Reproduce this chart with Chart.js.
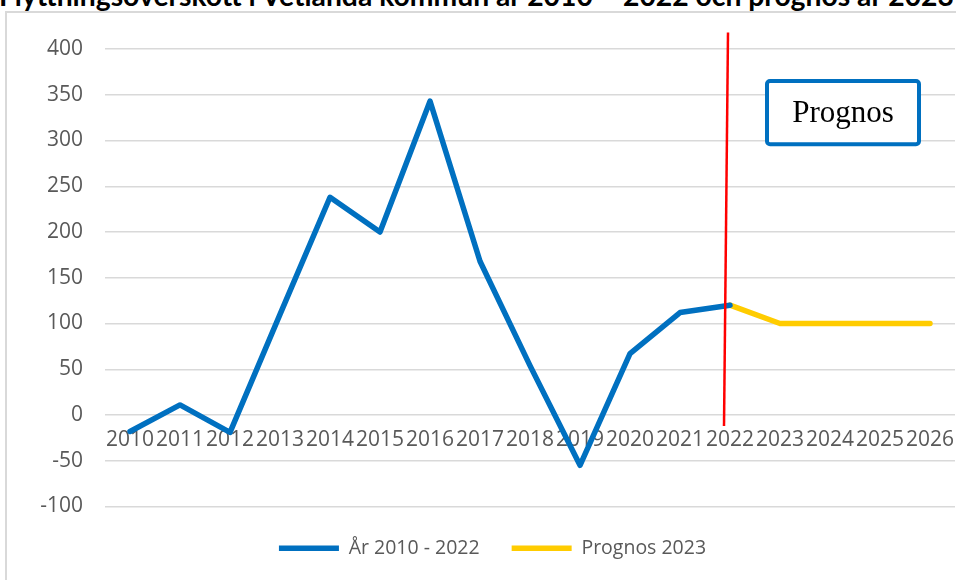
<!DOCTYPE html>
<html lang="sv">
<head>
<meta charset="utf-8">
<title>Flyttningsöverskott i Vetlanda kommun</title>
<script src="https://cdn.jsdelivr.net/npm/chart.js@4.4.1/dist/chart.umd.min.js"></script>
<style>
    html, body { margin: 0; padding: 0; width: 956px; height: 580px; overflow: hidden; background: #fff; }
    #title { position: absolute; left: -1px; top: -19px; font: bold 28.3px/28.3px Lato, sans-serif; white-space: nowrap; color: #000; }
    #frame { position: absolute; left: 5px; top: 11px; width: 1100px; height: 700px; border: 2px solid #d9d9d9; box-sizing: border-box; }
    #chart { position: absolute; left: 0; top: 0; }
</style>
</head>
<body>
<div id="title">Flyttningsöverskott i Vetlanda kommun år 2010 – 2022 och prognos år 2023</div>
<div id="frame"></div>
<canvas id="chart" width="1000" height="580"></canvas>
<script>
// Data
const years = ['2010', '2011', '2012', '2013', '2014', '2015', '2016', '2017', '2018',
               '2019', '2020', '2021', '2022', '2023', '2024', '2025', '2026'];
const actual = [-18, 11, -19, 110, 238, 200, 343, 168, 54, -55, 67, 112, 120, null, null, null, null];
const prognos = [null, null, null, null, null, null, null, null, null, null, null, null, 120, 100, 100, 100, 100];
const yTicks = { min: -100, max: 400, step: 50 };

const colors = {
    actual: '#0070c0',
    prognos: '#ffcc00',
    marker: '#ff0000',
    grid: '#d9d9d9',
    text: '#595959'
};
const font = 'Open Sans, sans-serif';

// Red divider at 2022 and the "Prognos" box
const prognosMarker = {
    id: 'prognosMarker',
    afterDatasetsDraw(chart) {
        const { ctx, scales: { x, y } } = chart;
        const i = years.indexOf('2022');
        const xi = x.getPixelForValue(i);

        ctx.save();
        ctx.strokeStyle = colors.marker;
        ctx.lineWidth = 2.5;
        ctx.beginPath();
        ctx.moveTo(xi - 2, y.getPixelForValue(418));
        ctx.lineTo(xi - 6, y.getPixelForValue(-12));
        ctx.stroke();

        const left = x.getPixelForValue(i + 0.74);
        const right = x.getPixelForValue(i + 3.78);
        const top = y.getPixelForValue(365);
        const bottom = y.getPixelForValue(296);
        ctx.beginPath();
        ctx.roundRect(left, top, right - left, bottom - top, 3);
        ctx.fillStyle = '#fff';
        ctx.fill();
        ctx.lineWidth = 4;
        ctx.strokeStyle = colors.actual;
        ctx.stroke();

        ctx.fillStyle = '#000';
        ctx.font = '31px "Liberation Serif", "Times New Roman", serif';
        ctx.textAlign = 'center';
        ctx.textBaseline = 'middle';
        ctx.fillText('Prognos', (left + right) / 2, (top + bottom) / 2 + 1);
        ctx.restore();
    }
};

const ctx = document.getElementById('chart').getContext('2d');
new Chart(ctx, {
    type: 'line',
    data: {
        labels: years,
        datasets: [
            {
                label: 'År 2010 - 2022',
                data: actual,
                borderColor: colors.actual,
                backgroundColor: colors.actual,
                borderWidth: 5.5,
                borderCapStyle: 'round',
                borderJoinStyle: 'round',
                pointRadius: 0,
                tension: 0
            },
            {
                label: 'Prognos 2023',
                data: prognos,
                borderColor: colors.prognos,
                backgroundColor: colors.prognos,
                borderWidth: 5.5,
                borderCapStyle: 'round',
                borderJoinStyle: 'round',
                pointRadius: 0,
                tension: 0
            }
        ]
    },
    options: {
        responsive: false,
        animation: false,
        layout: { padding: { left: 30, right: 45, top: 49, bottom: 12 } },
        scales: {
            x: {
                position: { y: 0 },
                offset: true,
                grid: { display: false, drawTicks: false },
                border: { display: false },
                ticks: {
                    color: colors.text,
                    font: { family: font, size: 21 },
                    padding: 12,
                    autoSkip: false,
                    maxRotation: 0,
                    minRotation: 0
                }
            },
            y: {
                min: yTicks.min,
                max: yTicks.max,
                afterFit: (scale) => { scale.width = 75; },
                grid: { color: colors.grid, lineWidth: 1.5, drawTicks: false },
                border: { display: false },
                ticks: {
                    stepSize: yTicks.step,
                    color: colors.text,
                    font: { family: font, size: 21 },
                    padding: 22,
                    callback: (value) => String(value)
                }
            }
        },
        plugins: {
            legend: {
                position: 'bottom',
                labels: {
                    usePointStyle: true,
                    pointStyle: 'line',
                    pointStyleWidth: 60,
                    color: colors.text,
                    font: { family: font, size: 19.5 },
                    padding: 32
                }
            },
            tooltip: { enabled: false },
            title: { display: false }
        }
    },
    plugins: [prognosMarker]
});
</script>
</body>
</html>
